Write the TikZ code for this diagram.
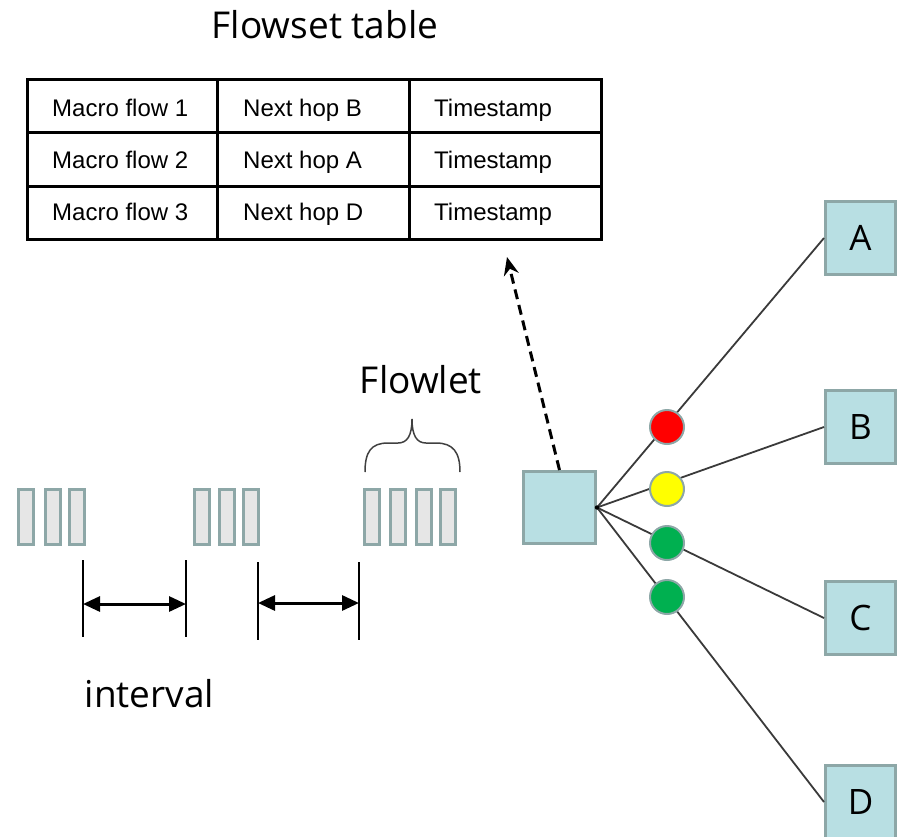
\documentclass[tikz,border=0pt]{standalone}
\usepackage{fontspec}
\setmainfont{Liberation Sans}
\newfontfamily\labelfont{Open Sans}
\usetikzlibrary{arrows.meta}
\definecolor{edgegray}{HTML}{8DA7A7}
\definecolor{pktfill}{HTML}{E6E6E6}
\definecolor{boxfill}{HTML}{B8DFE3}
\definecolor{sigred}{HTML}{FF0000}
\definecolor{sigyellow}{HTML}{FFFF00}
\definecolor{siggreen}{HTML}{00B050}
\definecolor{fangray}{HTML}{3A3A3A}
\tikzset{
  cell/.style={anchor=base west, inner sep=0pt, font=\fontsize{24}{28}\selectfont},
  bigtext/.style={anchor=base, inner sep=0pt, font=\labelfont\fontsize{37}{44}\selectfont, text=black},
  pkt/.style={draw=edgegray, fill=pktfill, line width=3pt, minimum width=15pt, minimum height=55pt, inner sep=0pt},
  hopbox/.style={draw=edgegray, fill=boxfill, line width=3pt, minimum width=70pt, minimum height=73pt, inner sep=0pt, font=\labelfont\fontsize{35}{40}\selectfont},
  signal/.style={circle, draw=edgegray, line width=2pt, minimum size=34pt, inner sep=0pt},
  fanline/.style={draw=fangray, line width=1.8pt},
  tick/.style={line width=1.6pt},
  gap/.style={line width=3pt, {Triangle[length=17pt,width=15pt]}-{Triangle[length=17pt,width=15pt]}},
}
\begin{document}
\begin{tikzpicture}[x=1pt,y=-1pt]
\useasboundingbox (0,0) rectangle (897,836);

% title
\node[bigtext] (title) at (325,38) {Flowset table};

% table
\draw[line width=3pt] (27,79) rectangle (601,239);
\draw[line width=3pt] (217,79) -- (217,239) (409,79) -- (409,239)
  (27,132) -- (601,132) (27,186) -- (601,186);
\foreach \r/\y/\a/\b in {1/116/1/B, 2/168/2/A, 3/220/3/D} {
  \node[cell] (m\r) at (52,\y) {Macro flow \a};
  \node[cell] (n\r) at (243,\y) {Next hop \b};
  \node[cell] (t\r) at (434,\y) {Timestamp};
}

% packets
\foreach \x [count=\i] in {26,52.5,76.5, 201.5,227,250.5, 372,398,424,447.5}
  \node[pkt] (p\i) at (\x,517) {};

% flowlet brace and label
\draw[line width=1.5pt, draw=black!75] (365,472) .. controls (365,452) and (371,443) .. (388,443)
  -- (398,443) .. controls (407,443) and (412,436) .. (412,419)
  .. controls (412,436) and (417,443) .. (426,443) -- (436,443)
  .. controls (453,443) and (460,452) .. (460,472);
\node[bigtext] (flowlet) at (421,393) {Flowlet};

% intervals
\draw[tick] (83,560) -- (83,637) (186,560) -- (186,637)
  (258,562) -- (258,640) (359,562) -- (359,640);
\coordinate (i1a) at (83,604);
\coordinate (i1b) at (186,604);
\coordinate (i2a) at (258,603);
\coordinate (i2b) at (359,603);
\draw[gap] (i1a) -- (i1b);
\draw[gap] (i2a) -- (i2b);
\node[bigtext] (interval) at (149.5,707) {interval};

% switch
\node[hopbox, minimum width=72pt, minimum height=72pt] (sw) at (559.5,507.5) {};
\coordinate (tabletarget) at (507,257);
\draw[line width=3pt, dash pattern=on 10pt off 6pt, -{Stealth[length=18pt,width=15pt]}] (sw.north) -- (tabletarget);

% next hops
\node[hopbox] (A) at (860.5,238) {A};
\node[hopbox] (B) at (860.5,427) {B};
\node[hopbox] (C) at (860.5,618) {C};
\node[hopbox] (D) at (860.5,802) {D};

\foreach \h in {A,B,C,D}
  \draw[fanline] (sw.east) -- (\h.west);
\fill (sw.east) circle (2.2pt);

\node[signal, fill=sigred] (sr) at (667,427) {};
\node[signal, fill=sigyellow] (sy) at (667,489) {};
\node[signal, fill=siggreen] (sg1) at (667,543) {};
\node[signal, fill=siggreen] (sg2) at (667,597) {};
\end{tikzpicture}
\end{document}
